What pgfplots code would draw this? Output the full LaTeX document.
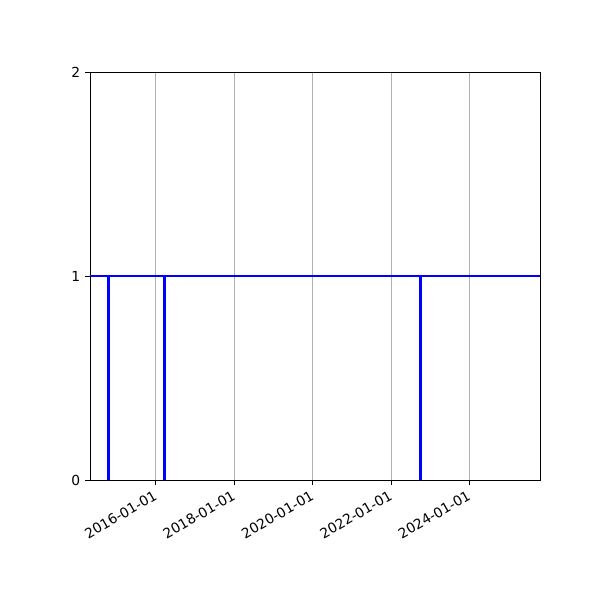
\documentclass[border=0pt]{standalone}
\usepackage{pgfplots}
\pgfplotsset{compat=1.18}
\usepackage{fontspec}
\setmainfont{DejaVu Sans}
\begin{document}
\begin{tikzpicture}
\begin{axis}[
  at={(0pt,0pt)}, anchor=south west,
  scale only axis,
  width=325.2pt, height=294.9pt,
  xmin=2014.324, xmax=2025.80,
  ymin=0, ymax=2,
  xtick={2016,2018,2020,2022,2024},
  xticklabels={2016-01-01,2018-01-01,2020-01-01,2022-01-01,2024-01-01},
  x tick label style={rotate=30, anchor=north east, inner sep=1pt, xshift=-2.5pt, yshift=-1pt},
  ytick={0,1,2},
  tick align=outside, tick pos=left,
  major tick length=3.5pt,
  every tick/.style={black, line width=0.6pt},
  xmajorgrids=true,
  grid style={color=black!31, line width=0.6pt},
  axis line style={line width=0.6pt},
  tick label style={font=\fontsize{10}{12}\selectfont},
  /pgf/number format/assume math mode=true,
  clip=true,
]
\addplot[color=blue, line width=1.5pt] coordinates {(2014.0,1)(2026.2,1)};
\addplot[color=blue, line width=2.2pt] coordinates {(2014.79,0)(2014.79,1)};
\addplot[color=blue, line width=2.2pt] coordinates {(2016.22,0)(2016.22,1)};
\addplot[color=blue, line width=2.2pt] coordinates {(2022.76,0)(2022.76,1)};
\end{axis}
\path[use as bounding box] (-65.04pt,-86.72pt) rectangle (368.58pt,346.90pt);
\end{tikzpicture}
\end{document}
